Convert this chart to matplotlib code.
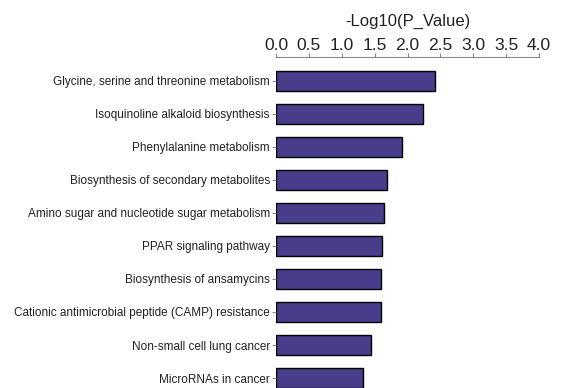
import matplotlib
matplotlib.use("Agg")
import matplotlib.pyplot as plt

pathways = [
    "Glycine, serine and threonine metabolism",
    "Isoquinoline alkaloid biosynthesis",
    "Phenylalanine metabolism",
    "Biosynthesis of secondary metabolites",
    "Amino sugar and nucleotide sugar metabolism",
    "PPAR signaling pathway",
    "Biosynthesis of ansamycins",
    "Cationic antimicrobial peptide (CAMP) resistance",
    "Non-small cell lung cancer",
    "MicroRNAs in cancer",
]
neg_log_p = [2.42, 2.23, 1.91, 1.69, 1.65, 1.61, 1.59, 1.60, 1.44, 1.32]
x_ticks = [0.0, 0.5, 1.0, 1.5, 2.0, 2.5, 3.0, 3.5, 4.0]

plt.rcParams['font.family'] = ['Liberation Sans', 'DejaVu Sans']

fig = plt.figure(figsize=(5.65, 3.88), dpi=100)
ax = fig.add_axes([276 / 565, 0.0, (539 - 276) / 565, 1 - 57.3 / 388])

ypos = list(range(len(pathways)))
ax.barh(ypos, neg_log_p, height=0.6, color='#483D8B',
        edgecolor='black', linewidth=1.0)

ax.set_xlim(0, 4.0)
ax.set_ylim(9.303, -0.718)
ax.set_yticks(ypos)
ax.set_yticklabels(pathways, fontsize=8.5, color='#222222')
ax.set_xticks(x_ticks)
ax.set_xticklabels([f"{t:.1f}" for t in x_ticks], fontsize=12.5, color='#222222')

ax.xaxis.tick_top()
ax.xaxis.set_label_position('top')
ax.set_xlabel("-Log10(P_Value)", fontsize=12, labelpad=9, color='#222222')

for side in ['left', 'right', 'bottom']:
    ax.spines[side].set_visible(False)
ax.spines['top'].set_color('#888888')
ax.spines['top'].set_linewidth(0.8)
ax.tick_params(axis='x', direction='out', length=3, width=0.8,
               color='#888888', pad=0)
ax.tick_params(axis='y', direction='out', length=3, width=0.8,
               color='#888888', pad=1.5)

fig.savefig("out.png", dpi=100)
